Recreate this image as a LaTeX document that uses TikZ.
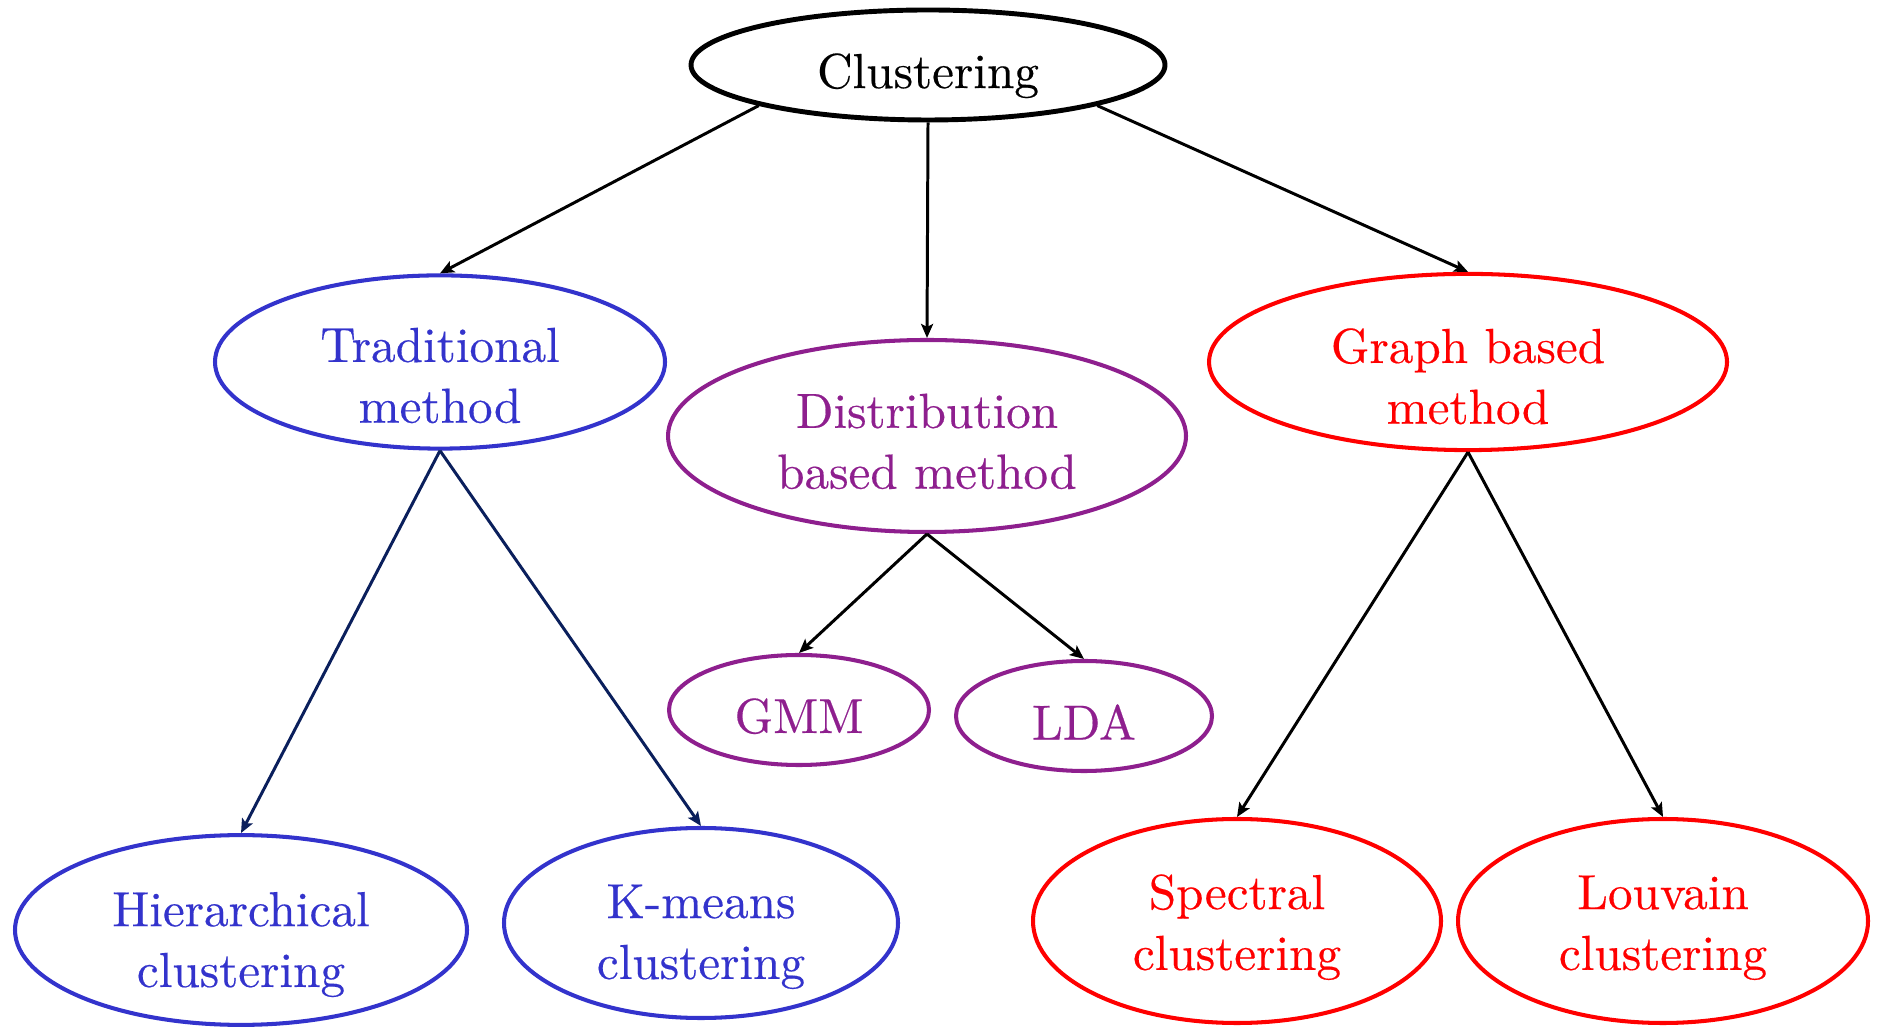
\documentclass[tikz,border=0pt]{standalone}
\usepackage{fontspec}
\newfontfamily\ovalfont{lmroman10-regular.otf}[FakeBold=0.35]
\usetikzlibrary{arrows.meta,shapes.geometric}
\definecolor{tradblue}{HTML}{3333CC}
\definecolor{distpurple}{HTML}{8E1F8E}
\definecolor{graphred}{HTML}{FF0000}
\definecolor{navyarrow}{HTML}{0A1F5C}
% invisible rule that pushes a label down inside its oval
\newcommand{\padtop}[1]{\rule{0pt}{#1}}

\begin{document}
\begin{tikzpicture}[
  oval/.style={draw,ellipse,inner sep=0pt,line width=1.15pt,align=center,font=\ovalfont\fontsize{14}{17.3}\selectfont},
  link/.style={-{Stealth[length=1.4mm,width=1.2mm,inset=0.3mm]},line width=0.85pt}]
  \useasboundingbox (0,0) rectangle (18.83,10.28);

  % Root
  \node[oval,line width=1.4pt,minimum width=4.74cm,minimum height=1.10cm] (clust) at (9.28,9.63) {\padtop{16pt}Clustering};

  % Second level
  \node[oval,tradblue,text=tradblue,minimum width=4.50cm,minimum height=1.70cm] (trad) at (4.40,6.66) {\padtop{17.4pt}Traditional\\method};
  \node[oval,distpurple,text=distpurple,minimum width=5.18cm,minimum height=1.92cm] (dist) at (9.27,5.92) {\padtop{12.8pt}Distribution\\based method};
  \node[oval,graphred,text=graphred,minimum width=5.18cm,minimum height=1.70cm] (graph) at (14.68,6.66) {\padtop{18pt}Graph based\\method};

  % Leaves
  \node[oval,distpurple,text=distpurple,minimum width=2.60cm,minimum height=1.10cm] (gmm) at (7.99,3.18) {\padtop{13.4pt}GMM};
  \node[oval,distpurple,text=distpurple,minimum width=2.56cm,minimum height=1.10cm] (lda) at (10.84,3.12) {\padtop{13.4pt}LDA};
  \node[oval,tradblue,text=tradblue,minimum width=4.52cm,minimum height=1.86cm] (hier) at (2.41,0.98) {\padtop{18pt}Hierarchical\\clustering};
  \node[oval,tradblue,text=tradblue,minimum width=3.94cm,minimum height=1.90cm] (kmeans) at (7.01,1.05) {\padtop{17.4pt}K-means\\clustering};
  \node[oval,graphred,text=graphred,minimum width=4.08cm,minimum height=2.04cm] (spec) at (12.37,1.07) {\padtop{13.4pt}Spectral\\clustering};
  \node[oval,graphred,text=graphred,minimum width=4.10cm,minimum height=2.04cm] (louv) at (16.63,1.07) {\padtop{13.4pt}Louvain\\clustering};

  % Arrows
  \draw[link] (clust.south west) -- (trad.north);
  \draw[link] (clust.south) -- (dist.north);
  \draw[link] (clust.south east) -- (graph.north);
  \draw[link,navyarrow] (trad.south) -- (hier.north);
  \draw[link,navyarrow] (trad.south) -- (kmeans.north);
  \draw[link] (dist.south) -- (gmm.north);
  \draw[link] (dist.south) -- (lda.north);
  \draw[link] (graph.south) -- (spec.north);
  \draw[link] (graph.south) -- (louv.north);
\end{tikzpicture}
\end{document}
